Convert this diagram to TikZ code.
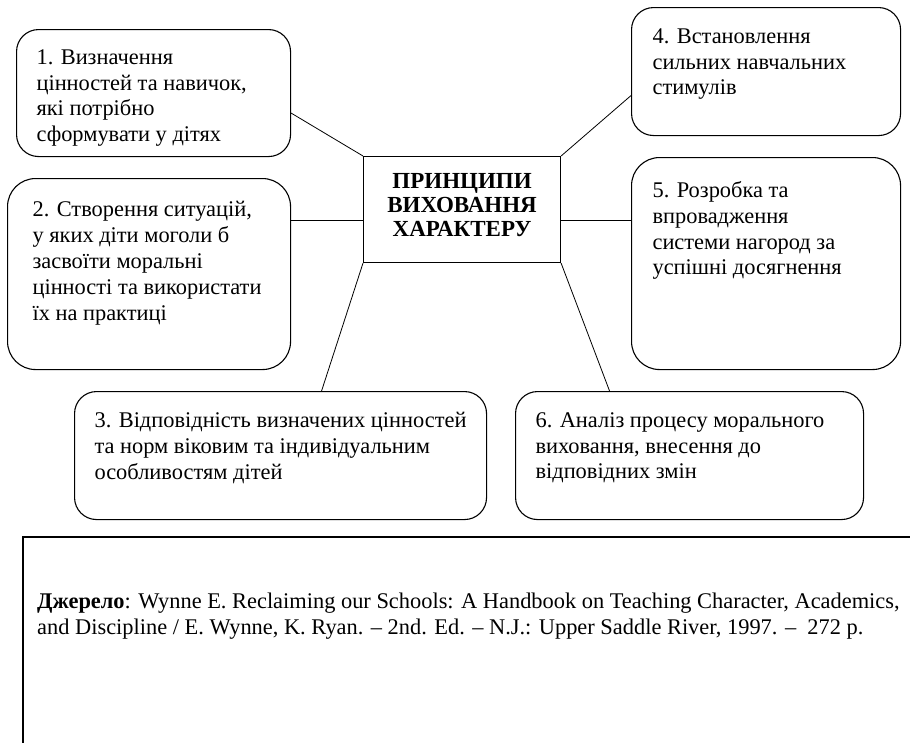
\documentclass[tikz,border=0pt]{standalone}
\usepackage{fontspec}
\setmainfont{Liberation Serif}
\newcommand{\boxbody}[3]{\parbox[c][#2][t]{#1}{\raggedright #3}}
\tikzset{
  stagebox/.style={draw, line width=1.1pt, rounded corners=22pt, anchor=north west, inner sep=20pt, font=\fontsize{22.4}{25.8}\selectfont},
  link/.style={line width=0.8pt},
}
\begin{document}
\begin{tikzpicture}[x=1pt, y=-1pt]
  \useasboundingbox (0,0) rectangle (910,742);
  % centre
  \node[draw, line width=1.1pt, anchor=north west, minimum width=197pt, minimum height=106pt, text depth=10pt, align=center, font=\fontsize{23}{24}\selectfont\bfseries] (core) at (363,156) {ПРИНЦИПИ\\ ВИХОВАННЯ\\ ХАРАКТЕРУ};
  % left
  \node[stagebox] (p1) at (16,29) {\boxbody{234pt}{87pt}{1. Визначення\\ цінностей та навичок,\\ які потрібно\\ сформувати у дітях}};
  \node[stagebox, rounded corners=28pt, inner xsep=25pt, inner ysep=23pt] (p2) at (7,178) {\boxbody{233pt}{145pt}{2. Створення ситуацій,\\ у яких діти моголи б\\ засвоїти моральні\\ цінності та використати\\ їх на практиці}};
  % bottom
  \node[stagebox, inner ysep=21pt] (p3) at (74,391) {\boxbody{372pt}{86pt}{3. Відповідність визначених цінностей\\ та норм віковим та індивідуальним\\ особливостям дітей}};
  \node[stagebox, inner ysep=21pt] (p6) at (515,391) {\boxbody{308pt}{86pt}{6. Аналіз процесу морального\\ виховання, внесення до\\ відповідних змін}};
  % right
  \node[stagebox, inner sep=21pt] (p4) at (631,7) {\boxbody{227pt}{86pt}{4. Встановлення\\ сильних навчальних\\ стимулів}};
  \node[stagebox, rounded corners=28pt, inner xsep=21pt, inner ysep=24pt] (p5) at (631,157) {\boxbody{227pt}{164pt}{5. Розробка та\\ впровадження\\ системи нагород за\\ успішні досягнення}};
  % links
  \draw[link] ([yshift=-20pt]p1.east) -- (core.north west);
  \coordinate (cl) at ([yshift=-11pt]core.west);
  \draw[link] (cl) -- (cl -| p2.east);
  \draw[link] (core.south west) -- ([xshift=41pt]p3.north);
  \draw[link] (core.north east) -- ([yshift=-24pt]p4.west);
  \coordinate (cr) at ([yshift=-11pt]core.east);
  \draw[link] (cr) -- (cr -| p5.west);
  \draw[link] (core.south east) -- ([xshift=-80pt]p6.north);
  % source
  \draw[line width=1.1pt] (912,537) -- (23,537) -- (23,744);
  \node[anchor=west, align=left, inner sep=0pt, font=\fontsize{22.4}{26}\selectfont] (src) at (37,616) {\textbf{Джерело}: Wynne E. Reclaiming our Schools: A Handbook on Teaching Character, Academics,\\ and Discipline / E. Wynne, K. Ryan. -- 2nd. Ed. -- N.J.: Upper Saddle River, 1997. -- \ 272 p.};
\end{tikzpicture}
\end{document}
